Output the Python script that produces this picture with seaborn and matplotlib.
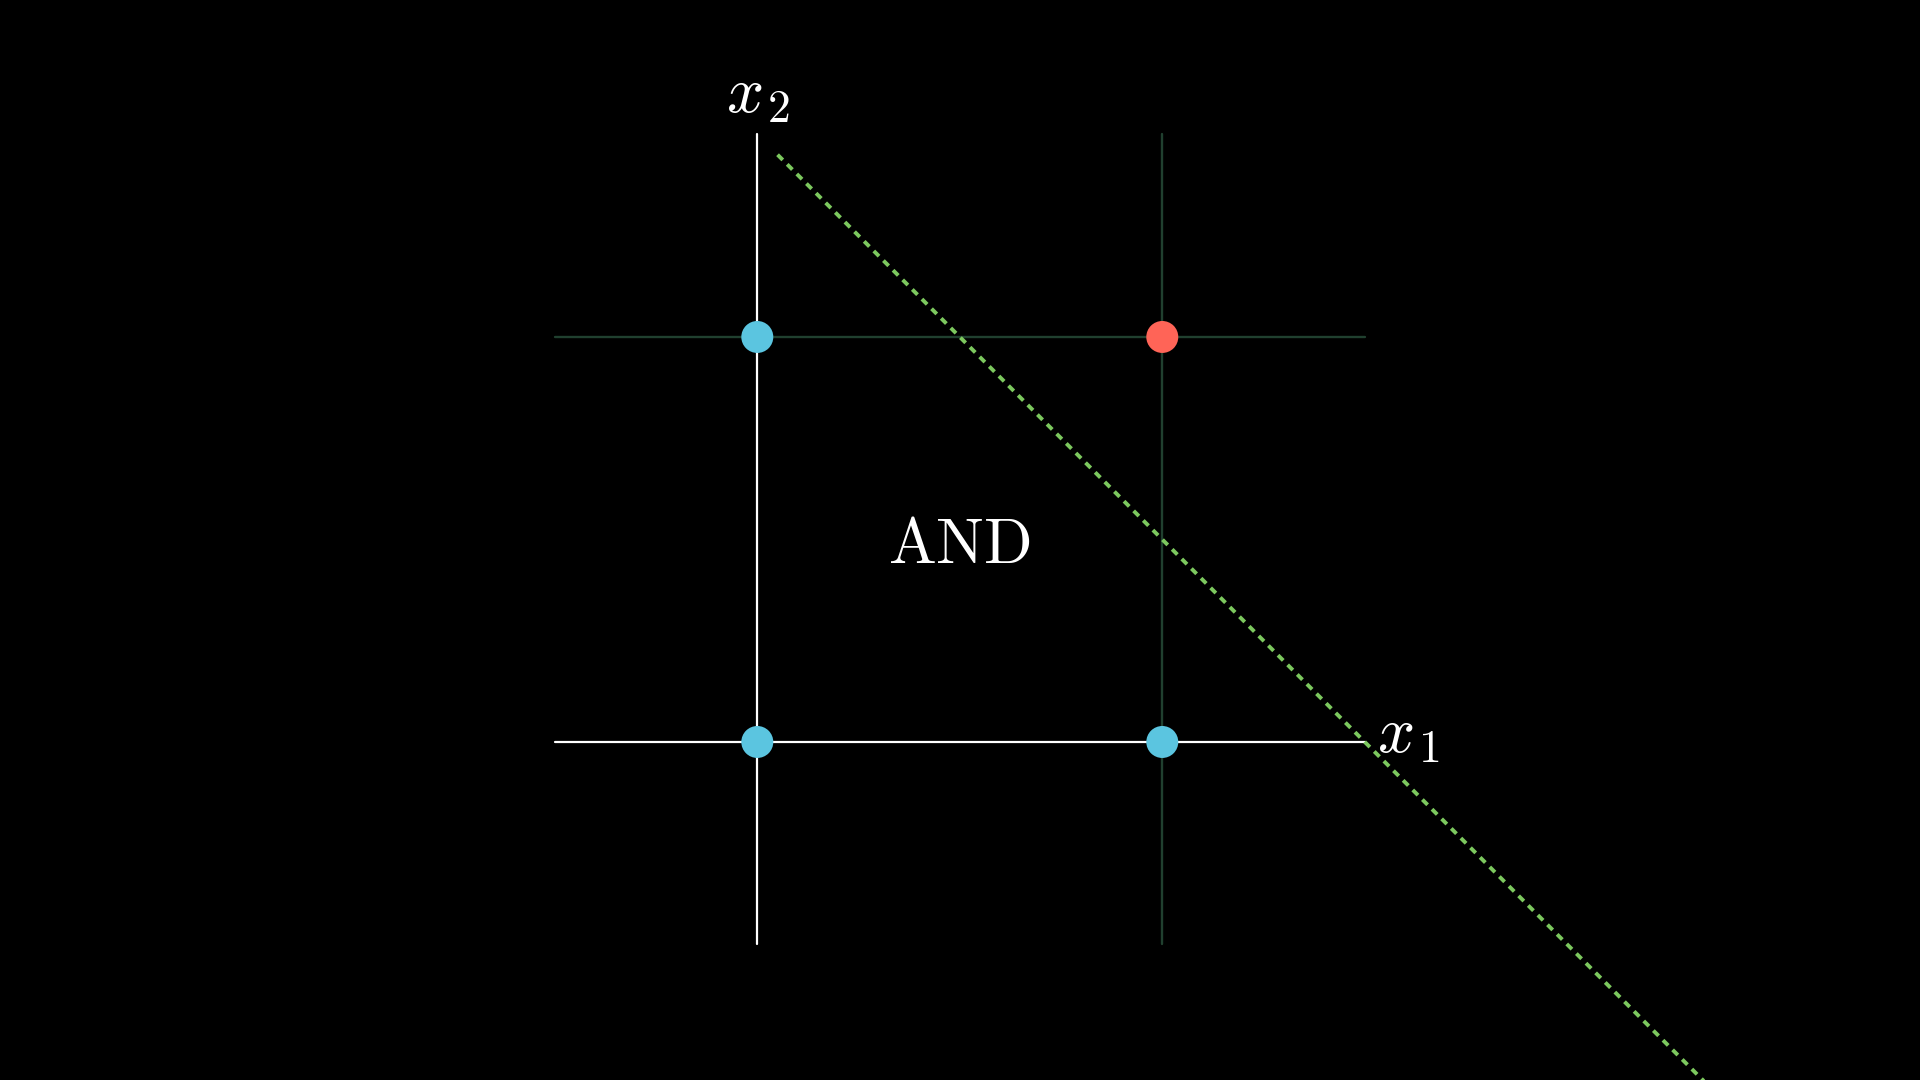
import numpy as np
import pandas as pd
import matplotlib.pyplot as plt
import seaborn as sns

# entradas de la compuerta AND y su salida
x1 = [0, 0, 1, 1]
x2 = [0, 1, 0, 1]
salida = [0, 0, 0, 1]

# rango de los ejes y lineas de la cuadricula
rango_eje = [-0.5, 1.5]
cuadricula = [1]

# frontera de decision (x1 + x2 = 1.5)
frontera_x1 = [0.05, 2.45]
frontera_x2 = [1.45, -0.95]

puntos = pd.DataFrame({'x1': x1, 'x2': x2, 'salida': salida})
frontera = pd.DataFrame({'x1': frontera_x1, 'x2': frontera_x2})

sns.set_theme(style='dark')
plt.rcParams['mathtext.fontset'] = 'cm'

fig = plt.figure(figsize=(19.2, 10.8), dpi=100, facecolor='black')
ax = fig.add_axes([0, 0, 1, 1])
ax.set_facecolor('black')

# cuadricula verde oscura
for g in cuadricula:
    ax.plot(rango_eje, [g, g], color='#20402f', lw=1.7, zorder=1)
    ax.plot([g, g], rango_eje, color='#20402f', lw=1.7, zorder=1)

# ejes blancos
ax.plot(rango_eje, [0, 0], color='white', lw=1.6, zorder=2)
ax.plot([0, 0], rango_eje, color='white', lw=1.6, zorder=2)

# frontera punteada
sns.lineplot(data=frontera, x='x1', y='x2', ax=ax, color='#7cc85e', lw=2.8,
             dashes=False, zorder=3)
ax.lines[-1].set_linestyle((0, (1.9, 1.6)))

# puntos de la compuerta
sns.scatterplot(data=puntos, x='x1', y='x2', hue='salida', ax=ax,
                palette={0: '#5bc5e0', 1: '#ff6457'}, s=530, linewidth=0,
                legend=False, zorder=4)

# etiquetas de los ejes (subindice mas grande, estilo manim)
ax.text(-0.078, 1.556, r'$x$', color='white', fontsize=47, ha='left', va='baseline')
ax.text(0.024, 1.531, r'$2$', color='white', fontsize=33, ha='left', va='baseline')
ax.text(1.530, -0.0247, r'$x$', color='white', fontsize=47, ha='left', va='baseline')
ax.text(1.631, -0.049, r'$1$', color='white', fontsize=33, ha='left', va='baseline')
ax.text(0.5, 0.486, r'$\mathrm{AND}$', color='white', fontsize=46, ha='center', va='center')

ax.set_xlim(-1.870, 2.871)
ax.set_ylim(-0.8346, 1.832)
ax.set_xlabel('')
ax.set_ylabel('')
ax.set_axis_off()

plt.savefig('out.png', dpi=100, facecolor='black')
